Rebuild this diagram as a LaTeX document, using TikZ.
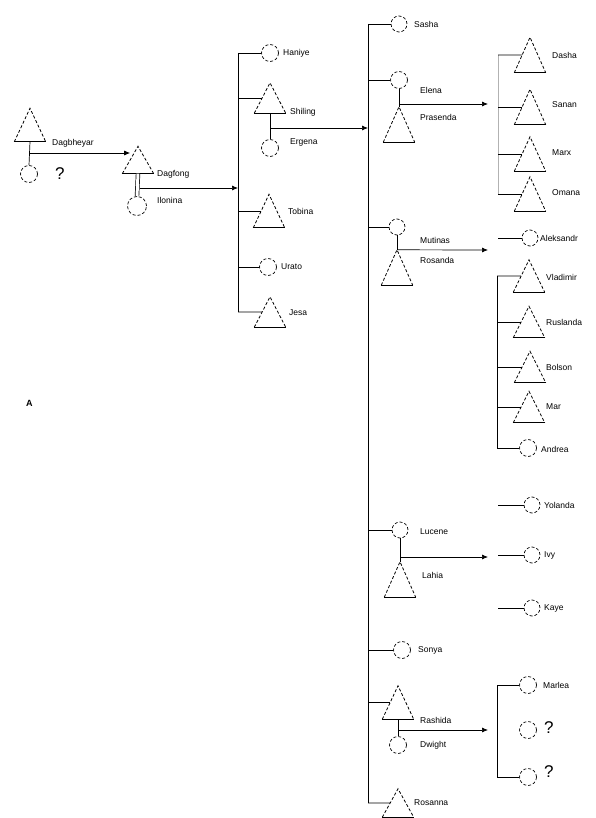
\documentclass[tikz,border=0pt]{standalone}
\usepackage{fontspec}
\setmainfont{Liberation Sans}
\usetikzlibrary{arrows.meta,calc}
\begin{document}
\begin{tikzpicture}[x=1pt,y=-1pt,
  tri/.style={rectangle,inner sep=0pt,minimum width=31pt,minimum height=33pt,draw=none},
  person/.style={circle,draw,densely dashed,inner sep=0pt,minimum size=17pt,line width=0.7pt},
  lbl/.style={anchor=west,inner sep=0pt,font=\fontsize{8.5}{9}\selectfont},
  qm/.style={anchor=west,inner sep=0pt,font=\fontsize{17}{18}\selectfont},
  link/.style={line width=0.7pt},
  brack/.style={line width=1pt},
  faint/.style={line width=0.6pt,black!30},
  arr/.style={line width=0.7pt,-{Latex[length=6pt,width=5pt]}}]
\useasboundingbox (0,0) rectangle (595,818);
% ---- triangles (male) ----
\node[tri,minimum height=33pt] (tDag) at (30,125) {};
\node[tri,minimum height=27pt] (tDagf) at (138,160) {};
\node[tri,minimum height=30pt] (tShil) at (270,98) {};
\node[tri] (tTob) at (269,211) {};
\node[tri,minimum height=30pt] (tJesa) at (270,312) {};
\node[tri,minimum height=35pt] (tElena) at (399,124.5) {};
\node[tri,minimum height=35pt] (tMut) at (397,267.5) {};
\node[tri,minimum height=35pt] (tLuc) at (400,579.5) {};
\node[tri] (tRash) at (398,702.5) {};
\node[tri,minimum height=28pt] (tRos) at (398,803) {};
\node[tri,minimum height=35pt] (tDasha) at (530,55) {};
\node[tri,minimum height=35pt] (tSanan) at (530,107) {};
\node[tri,minimum height=34pt] (tMarx) at (530,154) {};
\node[tri,minimum height=34pt] (tOmana) at (530,194) {};
\node[tri,minimum height=32pt] (tVlad) at (529,276) {};
\node[tri,minimum height=31pt] (tRusl) at (529,322) {};
\node[tri,minimum height=31pt] (tBols) at (530,367) {};
\node[tri,minimum height=31pt] (tMar) at (529,407) {};
\foreach \n in {tDag,tDagf,tShil,tTob,tJesa,tElena,tMut,tLuc,tRash,tRos,tDasha,tSanan,tMarx,tOmana,tVlad,tRusl,tBols,tMar}{
  \draw[densely dashed,line width=0.8pt] (\n.south west) -- (\n.north) -- (\n.south east);
  \draw[line width=0.7pt] (\n.south west) -- (\n.south east);
  \coordinate (\n-L) at ($(\n.south west)!0.5!(\n.north)$);
}
% ---- circles (female) ----
\node[person] (cDag) at (29,174) {};
\node[person,minimum size=19pt] (cDagf) at (137,206) {};
\node[person] (cHan) at (270,53) {};
\node[person] (cShil) at (270,148) {};
\node[person] (cUrato) at (268,267) {};
\node[person,minimum size=16pt] (cSasha) at (399,24) {};
\node[person] (cElena) at (399,80) {};
\node[person,minimum size=16pt] (cMut) at (397,227) {};
\node[person,minimum size=16pt] (cAlek) at (530,238) {};
\node[person] (cAndre) at (528,448) {};
\node[person,minimum size=16pt] (cLuc) at (400,530) {};
\node[person,minimum size=16pt] (cYol) at (532,505) {};
\node[person,minimum size=16pt] (cIvy) at (532,555) {};
\node[person,minimum size=16pt] (cKaye) at (532,608) {};
\node[person] (cSonya) at (402,650) {};
\node[person] (cRash) at (398,745) {};
\node[person] (cMarl) at (528,685) {};
\node[person] (cQ1) at (528,730) {};
\node[person] (cQ2) at (528,777) {};
% ---- junction coordinates ----
\coordinate (dagJ) at (30,153);
\coordinate (dagfJ) at (140,188);
\coordinate (shilJ) at (270,128);
\coordinate (elJ) at (399,104);
\coordinate (lucJ) at (401,557);
\coordinate (rashJ) at (399,730);
\coordinate (b1t) at (238,53);
\coordinate (b1b) at (238,312);
\coordinate (b2t) at (368,24);
\coordinate (b2b) at (368,803);
\coordinate (b3t) at (497,276);
\coordinate (b3b) at (497,448);
\coordinate (b4t) at (497,685);
\coordinate (b4b) at (497,777);
\coordinate (eK) at (498,55);
\coordinate (eKb) at (498,194);
\coordinate (elE) at (488,104);
\coordinate (mutE) at (488,250);
\coordinate (lucE) at (488,557);
\coordinate (rashE) at (488,730);
% ---- couples ----
\draw[link] (tDag.south) -- (cDag.north);
\draw[arr] (dagJ) -- (dagJ -| tDagf-L);
\draw[link,double,double distance=3pt] (tDagf.south) -- (cDagf.north);
\draw[arr] (dagfJ) -- (dagfJ -| b1t);
\draw[link] (tShil.south) -- (cShil.north);
\draw[arr] (shilJ) -- (shilJ -| b2t);
\draw[link] (cElena.south) -- (tElena.north);
\draw[arr] (elJ) -- (elE);
\draw[link] (cMut.south) -- (tMut.north);
\draw[arr] (tMut.north) -- (mutE);
\draw[link] (cLuc.south) -- (tLuc.north);
\draw[arr] (lucJ) -- (lucE);
\draw[link] (tRash.south) -- (cRash.north);
\draw[arr] (rashJ) -- (rashE);
% ---- sibling brackets ----
\draw[brack] (b1t) -- (b1b);
\draw[link] (b1t) -- (cHan.west);
\draw[link] (b1t |- tShil-L) -- (tShil-L);
\draw[link] (b1t |- tTob-L) -- (tTob-L);
\draw[link] (b1t |- cUrato) -- (cUrato.west);
\draw[link] (b1b) -- (tJesa-L);
\draw[brack] (b2t) -- (b2b);
\draw[link] (b2t) -- (cSasha.west);
\draw[link] (b2t |- cElena) -- (cElena.west);
\draw[link] (b2t |- cMut) -- (cMut.west);
\draw[link] (b2t |- cLuc) -- (cLuc.west);
\draw[link] (b2t |- cSonya) -- (cSonya.west);
\draw[link] (b2t |- tRash-L) -- (tRash-L);
\draw[link] (b2b) -- (tRos-L);
\draw[faint] (eK) -- (eKb);
\draw[link] (eK) -- (tDasha-L);
\draw[link] (eK |- tSanan-L) -- (tSanan-L);
\draw[link] (eK |- tMarx-L) -- (tMarx-L);
\draw[link] (eK |- tOmana-L) -- (tOmana-L);
\draw[link] (eK |- cAlek) -- (cAlek.west);
\draw[brack] (b3t) -- (b3b);
\draw[link] (b3t) -- (tVlad-L);
\draw[link] (b3t |- tRusl-L) -- (tRusl-L);
\draw[link] (b3t |- tBols-L) -- (tBols-L);
\draw[link] (b3t |- tMar-L) -- (tMar-L);
\draw[link] (b3b) -- (cAndre.west);
\draw[link] (eK |- cYol) -- (cYol.west);
\draw[link] (eK |- cIvy) -- (cIvy.west);
\draw[link] (eK |- cKaye) -- (cKaye.west);
\draw[brack] (b4t) -- (b4b);
\draw[link] (b4t) -- (cMarl.west);
\draw[link] (b4b) -- (cQ2.west);
% ---- labels ----
\node[lbl] (lDag) at (52,143) {Dagbheyar};
\node[qm] (lQ0) at (55,174) {?};
\node[lbl] (lDagf1) at (157,174) {Dagfong};
\node[lbl] (lDagf2) at (157,200) {Ilonina};
\node[lbl] (lHan) at (283,53) {Haniye};
\node[lbl] (lShil1) at (290,112) {Shiling};
\node[lbl] (lShil2) at (290,142) {Ergena};
\node[lbl] (lTob) at (288,211) {Tobina};
\node[lbl] (lUrato) at (281,267) {Urato};
\node[lbl] (lJesa) at (289,313) {Jesa};
\node[lbl] (lSasha) at (414,24) {Sasha};
\node[lbl] (lEl1) at (420,90) {Elena};
\node[lbl] (lEl2) at (420,117) {Prasenda};
\node[lbl] (lDasha) at (552,55) {Dasha};
\node[lbl] (lSanan) at (552,105) {Sanan};
\node[lbl] (lMarx) at (552,153) {Marx};
\node[lbl] (lOmana) at (552,193) {Omana};
\node[lbl] (lMut1) at (420,240) {Mutinas};
\node[lbl] (lMut2) at (420,260) {Rosanda};
\node[lbl] (lAlek) at (540,238) {Aleksandr};
\node[lbl] (lVlad) at (546,277) {Vladimir};
\node[lbl] (lRusl) at (546,322) {Ruslanda};
\node[lbl] (lBols) at (546,367) {Bolson};
\node[lbl] (lMar) at (546,407) {Mar};
\node[lbl] (lAndre) at (541,449) {Andrea};
\node[lbl] (lLuc1) at (420,532) {Lucene};
\node[lbl] (lLuc2) at (422,575) {Lahia};
\node[lbl] (lYol) at (544,505) {Yolanda};
\node[lbl] (lIvy) at (544,555) {Ivy};
\node[lbl] (lKaye) at (544,608) {Kaye};
\node[lbl] (lSonya) at (418,650) {Sonya};
\node[lbl] (lRash1) at (420,720) {Rashida};
\node[lbl] (lRash2) at (420,745) {Dwight};
\node[lbl] (lMarl) at (543,685) {Marlea};
\node[qm] (lQ1) at (544,728) {?};
\node[qm] (lQ2) at (544,772) {?};
\node[lbl] (lRos) at (414,803) {Rosanna};
\node[lbl,font=\fontsize{9}{10}\selectfont\bfseries] (lA) at (26,403) {A};
\end{tikzpicture}
\end{document}
